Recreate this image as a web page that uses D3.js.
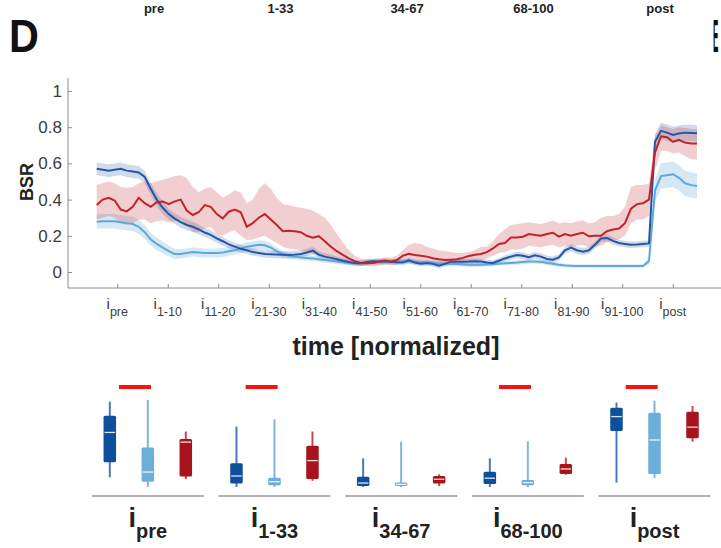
<!DOCTYPE html>
<html>
<head>
<meta charset="utf-8">
<script src="https://cdn.jsdelivr.net/npm/d3@7/dist/d3.min.js"></script>
<style>
  html, body { margin: 0; padding: 0; background: #fff; }
  svg { display: block; font-family: "Liberation Sans", Arial, Helvetica, sans-serif; }
</style>
</head>
<body>
<svg id="chart" width="721" height="548"></svg>
<script>
// ---------------- DATA ----------------
// time-course (101 samples from i_pre through i_post)
const darkBlueMean = [
  0.57, 0.565, 0.56, 0.565, 0.57, 0.56, 0.555, 0.55, 0.525, 0.46,
  0.40, 0.355, 0.32, 0.295, 0.275, 0.26, 0.25, 0.235, 0.218, 0.205,
  0.186, 0.17, 0.153, 0.14, 0.128, 0.12, 0.11, 0.105, 0.10, 0.098,
  0.096, 0.095, 0.094, 0.096, 0.10, 0.108, 0.118, 0.095, 0.085, 0.078,
  0.07, 0.062, 0.055, 0.05, 0.048, 0.055, 0.06, 0.058, 0.06, 0.057,
  0.054, 0.052, 0.064, 0.052, 0.045, 0.05, 0.045, 0.035, 0.045, 0.057,
  0.057, 0.057, 0.058, 0.06, 0.058, 0.052, 0.05, 0.062, 0.075, 0.085,
  0.094, 0.09, 0.082, 0.092, 0.085, 0.072, 0.068, 0.08, 0.12, 0.135,
  0.12, 0.112, 0.12, 0.15, 0.185, 0.188, 0.172, 0.16, 0.155, 0.15,
  0.152, 0.155, 0.158, 0.72, 0.78, 0.77, 0.757, 0.765, 0.77, 0.768, 0.766
];
const darkBlueErr = [
  0.035, 0.035, 0.035, 0.035, 0.035, 0.035, 0.035, 0.035, 0.035, 0.035,
  0.035, 0.035, 0.03, 0.03, 0.03, 0.03, 0.028, 0.028, 0.025, 0.025,
  0.025, 0.025, 0.022, 0.022, 0.022, 0.02, 0.02, 0.02, 0.02, 0.02,
  0.02, 0.02, 0.02, 0.02, 0.02, 0.02, 0.02, 0.018, 0.018, 0.018,
  0.016, 0.016, 0.015, 0.015, 0.015, 0.015, 0.015, 0.015, 0.015, 0.015,
  0.015, 0.015, 0.015, 0.015, 0.015, 0.015, 0.015, 0.015, 0.015, 0.015,
  0.015, 0.015, 0.015, 0.015, 0.015, 0.015, 0.015, 0.016, 0.016, 0.017,
  0.018, 0.018, 0.018, 0.018, 0.018, 0.018, 0.018, 0.018, 0.02, 0.02,
  0.02, 0.02, 0.02, 0.02, 0.02, 0.02, 0.02, 0.018, 0.018, 0.018,
  0.018, 0.018, 0.018, 0.04, 0.045, 0.045, 0.045, 0.045, 0.045, 0.045, 0.045
];
const lightBlueMean = [
  0.278, 0.28, 0.28, 0.28, 0.275, 0.27, 0.265, 0.25, 0.22, 0.18,
  0.155, 0.135, 0.115, 0.10, 0.10, 0.105, 0.11, 0.108, 0.105, 0.105,
  0.105, 0.108, 0.115, 0.12, 0.13, 0.14, 0.145, 0.15, 0.148, 0.135,
  0.115, 0.10, 0.09, 0.085, 0.08, 0.078, 0.075, 0.07, 0.066, 0.062,
  0.058, 0.054, 0.05, 0.048, 0.046, 0.05, 0.052, 0.055, 0.056, 0.058,
  0.06, 0.06, 0.058, 0.056, 0.055, 0.052, 0.05, 0.048, 0.046, 0.045,
  0.044, 0.042, 0.04, 0.04, 0.04, 0.042, 0.044, 0.046, 0.048, 0.05,
  0.052, 0.055, 0.058, 0.058, 0.056, 0.05, 0.045, 0.04, 0.036, 0.034,
  0.033, 0.033, 0.033, 0.033, 0.033, 0.033, 0.033, 0.033, 0.033, 0.033,
  0.033, 0.033, 0.06, 0.45, 0.53, 0.535, 0.54, 0.52, 0.49, 0.48, 0.475
];
const lightBlueErr = [
  0.04, 0.04, 0.04, 0.04, 0.04, 0.04, 0.04, 0.04, 0.038, 0.035,
  0.035, 0.032, 0.03, 0.028, 0.026, 0.025, 0.025, 0.025, 0.025, 0.025,
  0.025, 0.025, 0.025, 0.025, 0.025, 0.025, 0.025, 0.025, 0.025, 0.022,
  0.02, 0.018, 0.016, 0.015, 0.015, 0.015, 0.015, 0.015, 0.015, 0.014,
  0.014, 0.014, 0.013, 0.013, 0.013, 0.013, 0.013, 0.013, 0.013, 0.013,
  0.013, 0.013, 0.013, 0.013, 0.013, 0.013, 0.013, 0.013, 0.013, 0.013,
  0.012, 0.012, 0.012, 0.012, 0.012, 0.012, 0.012, 0.012, 0.012, 0.012,
  0.012, 0.012, 0.012, 0.012, 0.012, 0.012, 0.012, 0.012, 0.01, 0.01,
  0.01, 0.01, 0.01, 0.01, 0.01, 0.01, 0.01, 0.01, 0.01, 0.01,
  0.01, 0.01, 0.02, 0.06, 0.07, 0.07, 0.07, 0.07, 0.07, 0.07, 0.07
];
const redMean = [
  0.37, 0.40, 0.41, 0.395, 0.345, 0.335, 0.36, 0.41, 0.38, 0.36,
  0.385, 0.39, 0.375, 0.39, 0.40, 0.34, 0.315, 0.33, 0.37, 0.36,
  0.32, 0.296, 0.333, 0.345, 0.33, 0.25, 0.27, 0.30, 0.32, 0.29,
  0.26, 0.225, 0.228, 0.225, 0.22, 0.20, 0.19, 0.198, 0.17, 0.14,
  0.115, 0.095, 0.075, 0.06, 0.05, 0.048, 0.05, 0.057, 0.064, 0.057,
  0.066, 0.09, 0.10, 0.094, 0.09, 0.085, 0.076, 0.07, 0.066, 0.068,
  0.07, 0.078, 0.088, 0.095, 0.10, 0.11, 0.13, 0.155, 0.16, 0.19,
  0.19, 0.195, 0.21, 0.205, 0.20, 0.21, 0.217, 0.195, 0.21, 0.20,
  0.21, 0.217, 0.197, 0.20, 0.20, 0.225, 0.235, 0.24, 0.27, 0.35,
  0.375, 0.38, 0.40, 0.66, 0.75, 0.745, 0.72, 0.73, 0.715, 0.71, 0.71
];
const redHigh = [
  0.48, 0.49, 0.50, 0.49, 0.47, 0.465, 0.47, 0.49, 0.50, 0.49,
  0.50, 0.51, 0.52, 0.53, 0.535, 0.52, 0.47, 0.44, 0.46, 0.47,
  0.44, 0.41, 0.43, 0.45, 0.44, 0.38, 0.40, 0.46, 0.49, 0.46,
  0.41, 0.375, 0.37, 0.36, 0.355, 0.35, 0.34, 0.32, 0.30, 0.26,
  0.21, 0.165, 0.12, 0.09, 0.075, 0.07, 0.07, 0.075, 0.08, 0.08,
  0.09, 0.12, 0.15, 0.16, 0.155, 0.14, 0.13, 0.12, 0.115, 0.11,
  0.105, 0.105, 0.11, 0.12, 0.14, 0.14, 0.17, 0.21, 0.235, 0.26,
  0.265, 0.27, 0.275, 0.27, 0.265, 0.275, 0.285, 0.27, 0.275, 0.27,
  0.28, 0.285, 0.27, 0.275, 0.30, 0.31, 0.31, 0.32, 0.36, 0.47,
  0.48, 0.48, 0.49, 0.75, 0.81, 0.80, 0.79, 0.80, 0.795, 0.79, 0.79
];
const redLow = [
  0.29, 0.30, 0.31, 0.30, 0.27, 0.26, 0.27, 0.29, 0.29, 0.27,
  0.28, 0.285, 0.275, 0.28, 0.29, 0.26, 0.22, 0.22, 0.24, 0.25,
  0.21, 0.20, 0.22, 0.23, 0.20, 0.175, 0.18, 0.19, 0.20, 0.18,
  0.16, 0.14, 0.13, 0.125, 0.12, 0.11, 0.10, 0.10, 0.09, 0.08,
  0.065, 0.055, 0.045, 0.04, 0.035, 0.033, 0.03, 0.035, 0.04, 0.038,
  0.04, 0.055, 0.06, 0.058, 0.055, 0.05, 0.045, 0.042, 0.04, 0.04,
  0.042, 0.045, 0.05, 0.058, 0.065, 0.075, 0.09, 0.105, 0.11, 0.125,
  0.125, 0.13, 0.145, 0.14, 0.135, 0.145, 0.15, 0.135, 0.145, 0.14,
  0.145, 0.15, 0.135, 0.14, 0.145, 0.165, 0.175, 0.18, 0.20, 0.27,
  0.29, 0.29, 0.31, 0.56, 0.67, 0.67, 0.655, 0.66, 0.64, 0.625, 0.62
];

// x tick positions (in sample index units) and labels
const xTickPos = [3.43, 11.84, 20.25, 28.67, 37.08, 45.49, 53.9, 62.31, 70.72, 79.14, 87.55, 95.96];
const xTickSub = ["pre", "1-10", "11-20", "21-30", "31-40", "41-50", "51-60", "61-70", "71-80", "81-90", "91-100", "post"];
const yTicks = [0, 0.2, 0.4, 0.6, 0.8, 1];

// boxplot summary per interval: [whiskerLow, q1, median, q3, whiskerHigh]
const boxGroups = ["pre", "1-33", "34-67", "68-100", "post"];
const boxDark = [
  [0.11, 0.28, 0.62, 0.81, 0.97],
  [0.0, 0.04, 0.125, 0.27, 0.685],
  [0.0, 0.01, 0.045, 0.117, 0.326],
  [0.0, 0.035, 0.10, 0.174, 0.326],
  [0.05, 0.636, 0.80, 0.90, 0.96]
];
const boxLight = [
  [0.0, 0.06, 0.17, 0.45, 0.99],
  [0.0, 0.02, 0.06, 0.105, 0.77],
  [0.0, 0.01, 0.03, 0.05, 0.515],
  [0.0, 0.02, 0.05, 0.08, 0.52],
  [0.10, 0.148, 0.534, 0.844, 0.98]
];
const boxRed = [
  [0.09, 0.12, 0.51, 0.545, 0.63],
  [0.07, 0.09, 0.30, 0.47, 0.63],
  [0.01, 0.04, 0.088, 0.125, 0.145],
  [0.14, 0.148, 0.205, 0.26, 0.333],
  [0.515, 0.553, 0.68, 0.856, 0.92]
];
const sigGroups = [0, 1, 3, 4];
const topLabels = ["pre", "1-33", "34-67", "68-100", "post"];

// ---------------- DRAW ----------------
const svg = d3.select("#chart");

const C = {
  dark: "#2456a4", darkBox: "#0d4f9c", darkWhisk: "#4a78b8",
  light: "#5ea8dc", lightBox: "#6aaed9", lightWhisk: "#7db6de",
  red: "#c0232b", redBox: "#a8141c", redWhisk: "#c84850",
  axis: "#8c8c8c", text: "#3c3c3c"
};

// top labels (from panel above)
const topX = d3.scaleLinear().domain([0, 4]).range([154, 660]);
svg.append("g").selectAll("text").data(topLabels).join("text")
  .attr("x", (d, i) => topX(i)).attr("y", 13)
  .attr("text-anchor", "middle").attr("font-size", 13).attr("font-weight", "bold")
  .attr("fill", "#222").text(d => d);

// panel letters
svg.append("text").attr("x", 9).attr("y", 52).attr("font-size", 47).attr("font-weight", "bold")
  .attr("fill", "#111").attr("transform", "translate(9,52) scale(0.88,1) translate(-9,-52)").text("D");
svg.append("text").attr("x", 0).attr("y", 0).attr("font-size", 47).attr("font-weight", "bold")
  .attr("fill", "#111").attr("transform", "translate(713,52) scale(0.17,1)").text("E");

// scales for time course
const N = darkBlueMean.length;
const x = d3.scaleLinear().domain([0, N - 1]).range([96.7, 697]);
const y = d3.scaleLinear().domain([0, 1]).range([272, 91]);

const area = (lo, hi) => d3.area().x((d, i) => x(i)).y0((d, i) => y(lo[i])).y1((d, i) => y(hi[i]));
const line = d3.line().x((d, i) => x(i)).y(d => y(d));

const plot = svg.append("g");
const lbLo = lightBlueMean.map((v, i) => v - lightBlueErr[i]);
const lbHi = lightBlueMean.map((v, i) => v + lightBlueErr[i]);
const dbLo = darkBlueMean.map((v, i) => v - darkBlueErr[i]);
const dbHi = darkBlueMean.map((v, i) => v + darkBlueErr[i]);

plot.append("path").datum(lightBlueMean).attr("d", area(lbLo, lbHi))
  .attr("fill", "#6aaed6").attr("fill-opacity", 0.28);
plot.append("path").datum(darkBlueMean).attr("d", area(dbLo, dbHi))
  .attr("fill", C.dark).attr("fill-opacity", 0.22);
plot.append("path").datum(redMean).attr("d", area(redLow, redHigh))
  .attr("fill", C.red).attr("fill-opacity", 0.22);

plot.append("path").datum(lightBlueMean).attr("d", line)
  .attr("fill", "none").attr("stroke", C.light).attr("stroke-width", 2);
plot.append("path").datum(darkBlueMean).attr("d", line)
  .attr("fill", "none").attr("stroke", C.dark).attr("stroke-width", 2);
plot.append("path").datum(redMean).attr("d", line)
  .attr("fill", "none").attr("stroke", C.red).attr("stroke-width", 2);

// y axis
svg.append("line").attr("x1", 68).attr("x2", 68).attr("y1", 78).attr("y2", 288)
  .attr("stroke", C.axis).attr("stroke-width", 1);
const yAxis = d3.axisLeft(y).tickValues(yTicks).tickSize(-4).tickPadding(6)
  .tickFormat(d => (d === 0 || d === 1) ? String(d) : d.toFixed(1));
const gy = svg.append("g").attr("transform", "translate(68,0)").call(yAxis);
gy.select(".domain").remove();
gy.selectAll(".tick line").attr("stroke", C.axis);
gy.selectAll(".tick text").attr("font-size", 17).attr("fill", C.text)
  .attr("font-family", "Liberation Sans, Arial, sans-serif");

svg.append("text").attr("transform", "translate(33,182) rotate(-90)")
  .attr("text-anchor", "middle").attr("font-size", 18).attr("font-weight", "bold")
  .attr("fill", "#222").text("BSR");

// x axis
svg.append("line").attr("x1", 68).attr("x2", 721).attr("y1", 288).attr("y2", 288)
  .attr("stroke", C.axis).attr("stroke-width", 1);
const xAxis = d3.axisBottom(x).tickValues(xTickPos).tickSize(-4).tickFormat("");
const gx = svg.append("g").attr("transform", "translate(0,288)").call(xAxis);
gx.select(".domain").remove();
gx.selectAll(".tick line").attr("stroke", C.axis);

const xl = svg.append("g").selectAll("text").data(xTickPos).join("text")
  .attr("x", d => x(d)).attr("y", 309).attr("text-anchor", "middle")
  .attr("fill", C.text);
xl.append("tspan").attr("font-size", 15).text("i");
xl.append("tspan").attr("font-size", 12.5).attr("dy", 7).text((d, i) => xTickSub[i]);

svg.append("text").attr("x", 396).attr("y", 355).attr("text-anchor", "middle")
  .attr("font-size", 25).attr("font-weight", "bold").attr("fill", "#222")
  .text("time [normalized]");

// ---------------- BOXPLOTS ----------------
const gxB = d3.scaleLinear().domain([0, 4]).range([147.8, 654.5]);
const within = d3.scalePoint().domain(["dark", "light", "red"]).range([-38, 38]);
const yb = d3.scaleLinear().domain([0, 1]).range([487, 399]);
const boxW = 12.5;

const series = [
  { key: "dark", data: boxDark, fill: C.darkBox, whisk: C.darkWhisk },
  { key: "light", data: boxLight, fill: C.lightBox, whisk: C.lightWhisk },
  { key: "red", data: boxRed, fill: C.redBox, whisk: C.redWhisk }
];

const bp = svg.append("g");
// baselines
bp.selectAll("line.base").data(boxGroups).join("line").attr("class", "base")
  .attr("x1", (d, i) => gxB(i) - 56).attr("x2", (d, i) => gxB(i) + 56)
  .attr("y1", 496).attr("y2", 496).attr("stroke", "#9a9a9a").attr("stroke-width", 1.5);

series.forEach(s => {
  const g = bp.append("g");
  s.data.forEach((b, i) => {
    const cx = gxB(i) + within(s.key);
    g.append("line").attr("x1", cx).attr("x2", cx).attr("y1", yb(b[0])).attr("y2", yb(b[4]))
      .attr("stroke", s.whisk).attr("stroke-width", 2);
    g.append("rect").attr("x", cx - boxW / 2).attr("width", boxW)
      .attr("y", yb(b[3])).attr("height", Math.max(yb(b[1]) - yb(b[3]), 2.5))
      .attr("rx", 1.5).attr("fill", s.fill);
    g.append("line").attr("x1", cx - boxW / 2 + 1).attr("x2", cx + boxW / 2 - 1)
      .attr("y1", yb(b[2])).attr("y2", yb(b[2]))
      .attr("stroke", "#ffffff").attr("stroke-opacity", 0.85).attr("stroke-width", 1.3);
  });
});

// significance bars
bp.selectAll("rect.sig").data(sigGroups).join("rect").attr("class", "sig")
  .attr("x", d => gxB(d) - 12.8 - 16).attr("width", 32)
  .attr("y", 385).attr("height", 4).attr("fill", "#ff1010");

// group labels
const gl = bp.selectAll("text.gl").data(boxGroups).join("text").attr("class", "gl")
  .attr("x", (d, i) => gxB(i)).attr("y", 527).attr("text-anchor", "middle")
  .attr("font-weight", "bold").attr("fill", "#222");
gl.append("tspan").attr("font-size", 27).text("i");
gl.append("tspan").attr("font-size", 20).attr("dy", 11).text(d => d);
</script>
</body>
</html>
